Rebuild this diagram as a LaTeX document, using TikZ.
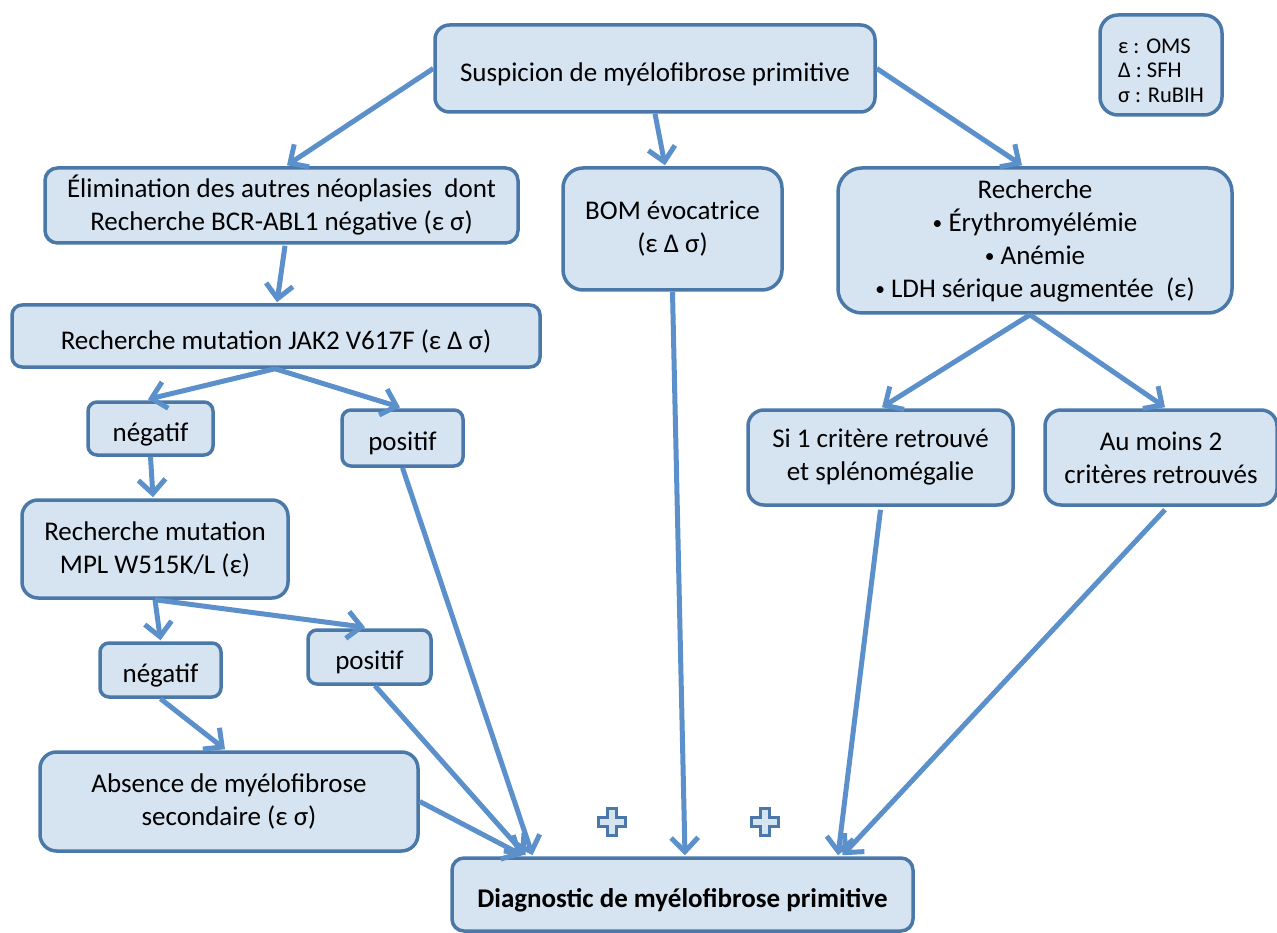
\documentclass[tikz,border=0pt]{standalone}
\usepackage{fontspec}
\setmainfont{Carlito}
\usetikzlibrary{arrows.meta,calc}

\definecolor{boxfill}{HTML}{D6E3F1}
\definecolor{boxline}{HTML}{4A78A8}
\definecolor{arrowc}{HTML}{5B90CB}

% list bullet in the "Recherche" box
\newcommand\smallbullet{\raisebox{1.5pt}{\scalebox{0.72}{•}}}

\tikzset{
  box/.style={draw=boxline, fill=boxfill, line width=3.5pt, align=center,
    inner sep=0pt, font=\fontsize{27}{33}\selectfont,
    execute at begin node={\rule{0pt}{30pt}}},
  conn/.style={draw=arrowc, line width=5pt,
    -{Straight Barb[length=14pt,width=27pt]}},
  plussign/.pic={
    \path[draw=boxline, fill=boxfill, line width=3pt]
      (-4.5,-13.5) -- (4.5,-13.5) -- (4.5,-4.5) -- (13.5,-4.5) -- (13.5,4.5)
      -- (4.5,4.5) -- (4.5,13.5) -- (-4.5,13.5) -- (-4.5,4.5) -- (-13.5,4.5)
      -- (-13.5,-4.5) -- (-4.5,-4.5) -- cycle;
  }
}

\begin{document}
\begin{tikzpicture}[x=1pt, y=-1pt]
\useasboundingbox (0,0) rectangle (1277,933);

% boxes
\node[box, minimum width=122, minimum height=100, rounded corners=18pt,
  align=left, font=\fontsize{22.5}{24.5}\selectfont]
  (legend) at (1161,65) {\rule{0pt}{26pt}ε : OMS\\Δ : SFH\\σ : RuBIH};
\node[box, minimum width=440, minimum height=87, rounded corners=14.5pt]
  (susp) at (655,68.5) {Suspicion de myélofibrose primitive};
\node[box, minimum width=473, minimum height=75, rounded corners=12.5pt]
  (elim) at (281.5,205.5) {Élimination des autres néoplasies\ \ dont\\Recherche BCR-ABL1 négative (ε σ)};
\node[box, minimum width=219, minimum height=122, rounded corners=20pt]
  (bom) at (672.5,229) {BOM évocatrice\\(ε Δ σ)};
\node[box, minimum width=394, minimum height=145, rounded corners=24pt]
  (rech) at (1035,240.5) {Recherche\\\smallbullet{} Érythromyélémie\\\smallbullet{} Anémie\\\smallbullet{} LDH sérique augmentée\ \ (ε)};
\node[box, minimum width=528, minimum height=62, rounded corners=10pt]
  (jak) at (276,336) {Recherche mutation JAK2 V617F (ε Δ σ)};
\node[box, minimum width=125, minimum height=53, rounded corners=9pt]
  (neg1) at (150.5,428.5) {négatif};
\node[box, minimum width=121, minimum height=56, rounded corners=9pt]
  (pos1) at (402.5,438) {positif};
\node[box, minimum width=266, minimum height=98, rounded corners=16pt]
  (mpl) at (155,549) {Recherche mutation\\MPL W515K/L (ε)};
\node[box, minimum width=121, minimum height=54, rounded corners=9pt]
  (neg2) at (160.5,670) {négatif};
\node[box, minimum width=123, minimum height=54, rounded corners=9pt]
  (pos2) at (369.5,657) {positif};
\node[box, minimum width=378, minimum height=99, rounded corners=16.5pt]
  (abs) at (229,801.5) {Absence de myélofibrose\\secondaire (ε σ)};
\node[box, minimum width=265, minimum height=95, rounded corners=16pt]
  (si) at (880.5,457.5) {Si 1 critère retrouvé\\et splénomégalie};
\node[box, minimum width=232, minimum height=95, rounded corners=16pt]
  (deux) at (1161,457.5) {Au moins 2\\critères retrouvés};
\node[box, minimum width=461, minimum height=73, rounded corners=12pt]
  (diag) at (682.5,894.5) {\bfseries Diagnostic de myélofibrose primitive};

% plus signs between the converging branches
\pic at (612,822) {plussign};
\pic at (765,822) {plussign};

% connectors
\draw[conn] (susp.west) -- ($(elim.north)+(5.5,-1)$);
\draw[conn] (susp.south) -- ($(bom.north)+(-7.5,-1)$);
\draw[conn] (susp.east) -- ($(rech.north)+(-13,-1)$);
\draw[conn] ($(elim.south)+(3.5,1)$) -- ($(jak.north)+(1,-1)$);
\draw[conn] ($(jak.south)+(-1,0)$) -- ($(neg1.north)+(-2.5,-1)$);
\draw[conn] ($(jak.south)+(-1,0)$) -- ($(pos1.north)+(-2.5,-1)$);
\draw[conn] (neg1.south) -- ($(mpl.north)+(-2,-1)$);
\draw[conn] (mpl.south) -- ($(neg2.north)+(0,-1)$);
\draw[conn] (mpl.south) -- ($(pos2.north)+(-4.5,-1)$);
\draw[conn] (neg2.south) -- ($(abs.north)+(-4,-1)$);
\draw[conn] (pos1.south) -- ($(diag.north)+(-150,-1)$);
\draw[conn] ($(pos2.south)+(5.5,0)$) -- ($(diag.north)+(-157,-1)$);
\draw[conn] (abs.east) -- ($(diag.north)+(-160,-1)$);
\draw[conn] (bom.south) -- ($(diag.north)+(2.5,-1)$);
\draw[conn] ($(rech.south)+(-5,0)$) -- ($(si.north)+(1.5,-1)$);
\draw[conn] ($(rech.south)+(-5,0)$) -- ($(deux.north)+(4,-1)$);
\draw[conn] ($(si.south)+(0,3)$) -- ($(diag.north)+(155.5,-1)$);
\draw[conn] ($(deux.south)+(4,3)$) -- ($(diag.north)+(160,-1)$);
\end{tikzpicture}
\end{document}
